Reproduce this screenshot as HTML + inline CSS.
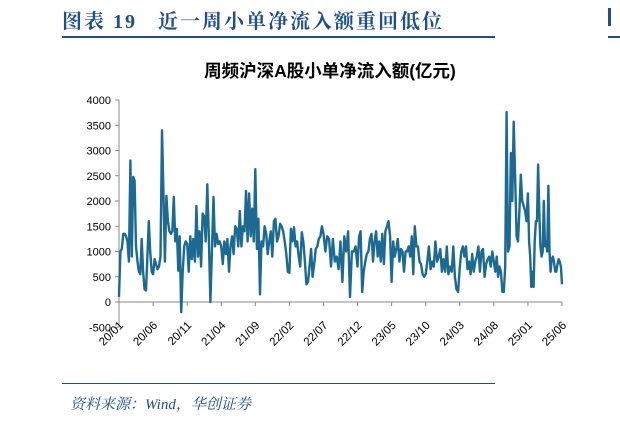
<!DOCTYPE html>
<html><head><meta charset="utf-8"><style>
body{margin:0;background:#fff;width:620px;height:423px;overflow:hidden;position:relative;font-family:"Liberation Sans","Noto Sans CJK SC",sans-serif}
.hdr{position:absolute;left:62px;top:5px;font-size:20px;font-weight:bold;color:#1f4f8f;font-family:"Liberation Serif","Noto Serif CJK SC",serif;letter-spacing:2px}
.hl{position:absolute;left:62px;top:36px;width:433px;height:2px;background:#1f4f8f}
.src{position:absolute;left:70px;top:393px;font-size:15px;font-style:italic;color:#1f4f8f;font-family:"Liberation Serif","Noto Serif CJK SC",serif}
.fl{position:absolute;left:62px;top:383px;width:433px;height:1px;background:#1f4f8f}
</style></head><body>
<div class="hdr">图表 19&nbsp;&nbsp;&nbsp;近一周小单净流入额重回低位</div>
<div class="hl"></div>
<div style="position:absolute;left:608px;top:8px;width:3px;height:18px;background:#1f4f8f"></div>
<div style="position:absolute;left:608px;top:36px;width:12px;height:2px;background:#1f4f8f"></div>
<svg id="c" width="620" height="423" style="position:absolute;left:0;top:0">
<text x="330" y="77" text-anchor="middle" font-size="17.5" font-weight="bold" fill="#000">周频沪深A股小单净流入额(亿元)</text>
</svg>
<div class="fl"></div>
<div class="src">资料来源：Wind，华创证券</div>
<script>
const yTicks=[-500,0,500,1000,1500,2000,2500,3000,3500,4000];
const xLabels=["20/01","20/06","20/11","21/04","21/09","22/02","22/07","22/12","23/05","23/10","24/03","24/08","25/01","25/06"];
const segmentCounts=[24,23,22,22,22,22,18,22,22,21,22,24,31];
const values=[100,1000,1050,1350,1350,1300,1200,800,2800,900,2480,2400,1100,800,600,550,1250,600,250,230,900,1600,1000,600,
550,850,750,650,700,900,3400,2200,800,2100,1600,1400,1350,1400,2080,1200,1450,620,1300,-200,600,1100,1200,
1150,600,1300,850,1250,800,1900,900,1400,700,1750,1700,1200,2330,1300,0,1000,2080,1100,1350,1150,1200,
1100,750,1200,950,1250,600,1100,1300,950,1500,1450,1100,1800,1100,1500,1400,2200,1200,2150,1300,1850,1200,
2630,1050,1650,150,1200,1100,1500,1350,950,1200,1400,900,1600,1650,1200,1300,1550,1500,1400,1200,950,600,
580,1450,1200,1480,1100,1200,900,700,1380,1200,800,350,400,700,1050,500,750,1050,1100,1250,1300,1500,
1350,1000,1300,1250,700,1250,800,900,650,1200,400,1300,1000,1400,100,1000,1000,1100,
700,1300,1400,200,600,800,950,1000,1250,1350,800,1200,1400,900,1200,800,1350,750,1400,1500,1600,1300,
400,1200,900,1050,1250,800,1050,1000,600,1000,1000,1100,900,1300,550,1500,1100,1100,800,750,550,500,
550,800,1100,650,800,700,1200,800,900,1050,600,850,600,1100,550,700,600,1100,500,250,200,
700,1000,1100,900,1100,650,800,550,950,600,800,900,1100,600,1000,1050,500,750,850,900,700,1000,
800,600,900,500,700,600,200,200,700,3760,1000,1100,2950,2000,3570,2500,1300,1200,1800,2520,2000,1900,1800,1600,
2150,1200,900,300,600,300,1200,1600,1600,2720,1800,1100,900,1000,2000,1100,1200,1000,2300,1000,600,850,900,800,600,600,750,850,800,700,350];
const svg=document.getElementById('c');const NS='http://www.w3.org/2000/svg';
const X0=119,X1=562,Y0v=302,scale=202/4000;
const yS=v=>Y0v-v*scale;
const segW=(X1-X0)/(xLabels.length-1);
function xS(i){let s=0;while(s<segmentCounts.length-1&&i>=segmentCounts[s]){i-=segmentCounts[s];s++;}
const n=segmentCounts[s];const f=(s===segmentCounts.length-1)?i/(n-1):i/n;return X0+segW*(s+Math.min(f,1));}
function mk(t,a){const e=document.createElementNS(NS,t);for(const k in a)e.setAttribute(k,a[k]);svg.appendChild(e);return e;}
const ya=mk('line',{x1:X0,y1:yS(4000),x2:X0,y2:yS(-500),stroke:'#888','stroke-width':1});


const xa=mk('line',{x1:X0,y1:Y0v,x2:X1,y2:Y0v,stroke:'#888','stroke-width':1});


yTicks.forEach(v=>{mk('line',{x1:X0-4,y1:yS(v),x2:X0,y2:yS(v),stroke:'#888'});
const t=mk('text',{x:X0-8,y:yS(v)+4,'text-anchor':'end','font-size':11,fill:'#000'});t.textContent=v;

});
xLabels.forEach((l,i)=>{const x=X0+segW*i;
mk('line',{x1:x,y1:Y0v,x2:x,y2:Y0v+4,stroke:'#888'});
const ax=x+5,ay=Y0v+24;
const t=mk('text',{x:ax,y:ay,'text-anchor':'end','font-size':11.5,fill:'#000',transform:`rotate(-45 ${ax} ${ay})`});t.textContent=l;

});
const p=mk('path',{d:values.map((v,i)=>(i?'L':'M')+xS(i).toFixed(1)+','+yS(v).toFixed(1)).join(''),fill:'none',stroke:'#1c6a92','stroke-width':2.4,'stroke-linejoin':'round'});


</script>
</body></html>
